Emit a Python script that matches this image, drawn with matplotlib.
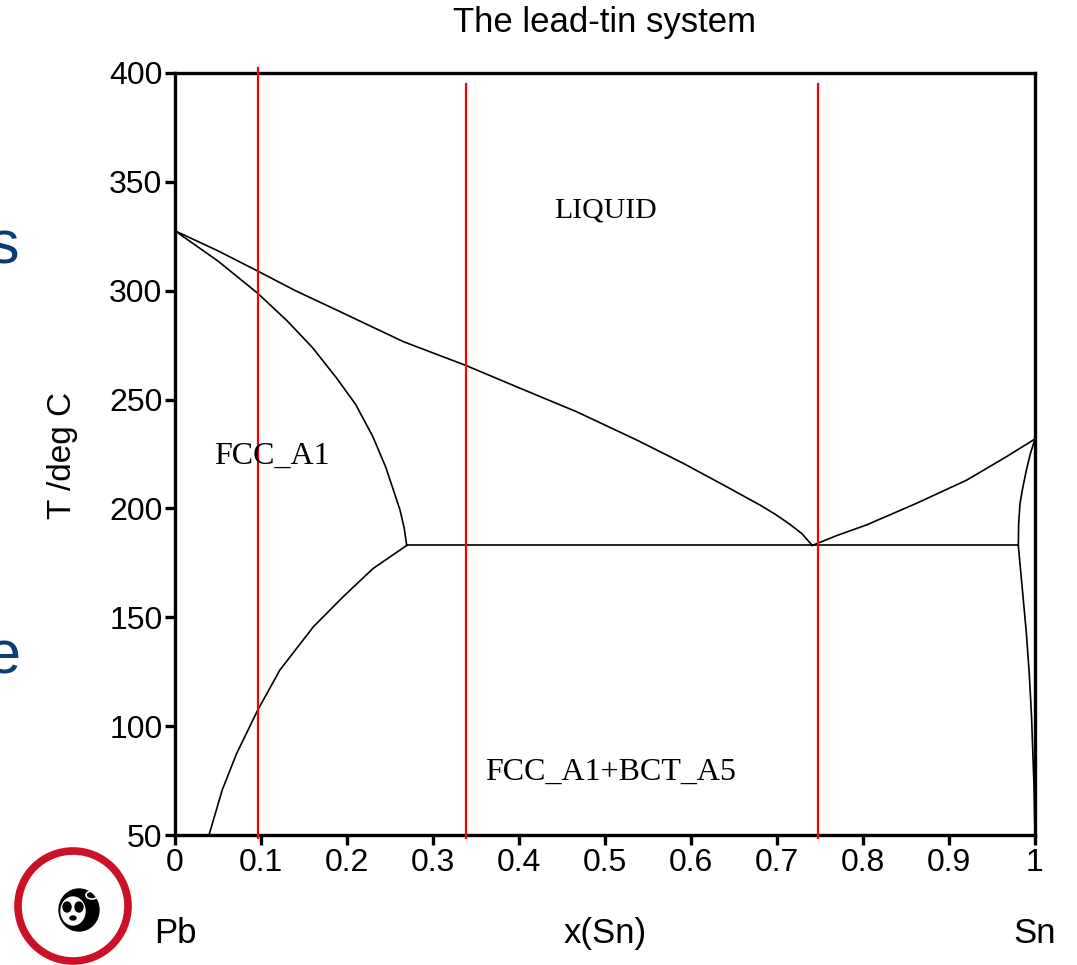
import matplotlib.pyplot as plt
from matplotlib.patches import Circle, Ellipse

# phase boundaries of the Pb-Sn system, x = mole fraction Sn, T in deg C
liq_pb_x = [0.0, 0.05, 0.0962, 0.14, 0.188, 0.2655, 0.338, 0.397, 0.467, 0.537, 0.591,
            0.638, 0.680, 0.698, 0.715, 0.729, 0.741]
liq_pb_t = [327.5, 318.3, 309.0, 300.0, 291.1, 276.6, 265.7, 255.9, 244.4, 231.4, 220.7,
            210.7, 201.6, 197.3, 192.7, 188.4, 183.0]

liq_sn_x = [0.741, 0.77, 0.804, 0.862, 0.9206, 0.967, 1.0]
liq_sn_t = [183.0, 187.6, 192.4, 202.3, 213.0, 223.8, 231.9]

sol_fcc_x = [0.0, 0.05, 0.0962, 0.13, 0.16, 0.188, 0.21, 0.23, 0.245, 0.256, 0.2616, 0.2665, 0.2694]
sol_fcc_t = [327.5, 313.6, 298.8, 286.3, 273.8, 259.8, 247.8, 233.0, 219.0, 206.0, 199.3, 191.0, 183.0]

solvus_fcc_x = [0.2694, 0.23, 0.1957, 0.161, 0.122, 0.0962, 0.0717, 0.055, 0.0395]
solvus_fcc_t = [183.0, 172.3, 159.5, 145.7, 125.8, 107.4, 87.5, 70.8, 50.0]

sol_bct_x = [1.0, 0.9945, 0.990, 0.986, 0.9826, 0.981, 0.9806]
sol_bct_t = [231.9, 225.0, 217.6, 210.0, 202.4, 193.0, 183.0]

solvus_bct_x = [0.9806, 0.9855, 0.990, 0.9935, 0.996, 0.9988, 1.0]
solvus_bct_t = [183.0, 162.0, 142.6, 123.0, 104.3, 73.0, 50.0]

eutectic_x = [0.2694, 0.9806]
eutectic_t = [183.0, 183.0]

# alloy compositions marked in red: (x, top T)
alloy_x = [0.097, 0.338, 0.748]
alloy_top = [402.3, 395.0, 395.0]
alloy_bottom = 48.6

phase_labels = ["LIQUID", "FCC_A1", "FCC_A1+BCT_A5"]
phase_pos = [(0.5, 337), (0.113, 224), (0.506, 79)]

xticks = [0, 0.1, 0.2, 0.3, 0.4, 0.5, 0.6, 0.7, 0.8, 0.9, 1]
xtick_labels = ["0", "0.1", "0.2", "0.3", "0.4", "0.5", "0.6", "0.7", "0.8", "0.9", "1"]
yticks = [50, 100, 150, 200, 250, 300, 350, 400]

sans = "Liberation Sans"
serif = "Liberation Serif"

fig = plt.figure(figsize=(10.77, 9.65), dpi=100)
ax = fig.add_axes([0.1625, 0.1347, 0.7985, 0.7897])

lw = 1.2
for xs, ts in [(liq_pb_x, liq_pb_t), (liq_sn_x, liq_sn_t), (sol_fcc_x, sol_fcc_t),
               (solvus_fcc_x, solvus_fcc_t), (sol_bct_x, sol_bct_t),
               (solvus_bct_x, solvus_bct_t), (eutectic_x, eutectic_t)]:
    ax.plot(xs, ts, color="black", lw=lw, solid_joinstyle="round")

for x, top in zip(alloy_x, alloy_top):
    ax.plot([x, x], [alloy_bottom, top], color="red", lw=1.6, clip_on=False, zorder=3)

for lab, (px, py), fs in zip(phase_labels, phase_pos, [21.5, 23, 23]):
    ax.text(px, py, lab, family=serif, fontsize=fs, ha="center", va="center")

ax.set_xlim(0, 1)
ax.set_ylim(50, 400)
ax.set_xticks(xticks)
ax.set_xticklabels(xtick_labels)
ax.set_yticks(yticks)
for s in ax.spines.values():
    s.set_linewidth(2.4)
ax.tick_params(direction="out", length=7, width=2.4, pad=2, labelsize=23)
for lab in ax.get_xticklabels() + ax.get_yticklabels():
    lab.set_family(sans)

fig.text(0.5617, 0.977, "The lead-tin system", family=sans, fontsize=25, ha="center", va="center")
fig.text(0.058, 0.5285, "T /deg C", family=sans, fontsize=24, rotation=90, ha="center", va="center")
fig.text(0.1625, 0.033, "Pb", family=sans, fontsize=25, ha="center", va="center")
fig.text(0.5617, 0.033, "x(Sn)", family=sans, fontsize=25, ha="center", va="center")
fig.text(0.961, 0.033, "Sn", family=sans, fontsize=25, ha="center", va="center")

# slide text bleeding in from the left edge
fig.text(19 / 1077, 1 - 248 / 965, "s", family=sans, fontsize=44, color="#0b3c73", ha="right", va="center")
fig.text(20 / 1077, 1 - 658 / 965, "e", family=sans, fontsize=44, color="#0b3c73", ha="right", va="center")

# panda badge
logo = fig.add_axes([0, 0, 1, 1], zorder=-1)
logo.set_xlim(0, 1077)
logo.set_ylim(965, 0)
logo.axis("off")
logo.add_patch(Circle((73, 906), 55, fill=False, ec="#cc1126", lw=5.5))
logo.add_patch(Ellipse((79, 910), 40, 42, color="black"))
logo.add_patch(Ellipse((73, 911), 24, 28, color="white"))
logo.add_patch(Ellipse((67, 907), 8, 10, color="black"))
logo.add_patch(Ellipse((79, 907), 8, 10, color="black"))
logo.add_patch(Ellipse((73, 918), 6, 4, color="black"))
logo.add_patch(Ellipse((92, 895), 12, 8, fc="none", ec="white", lw=1.2))

fig.savefig("out.png", dpi=100)
